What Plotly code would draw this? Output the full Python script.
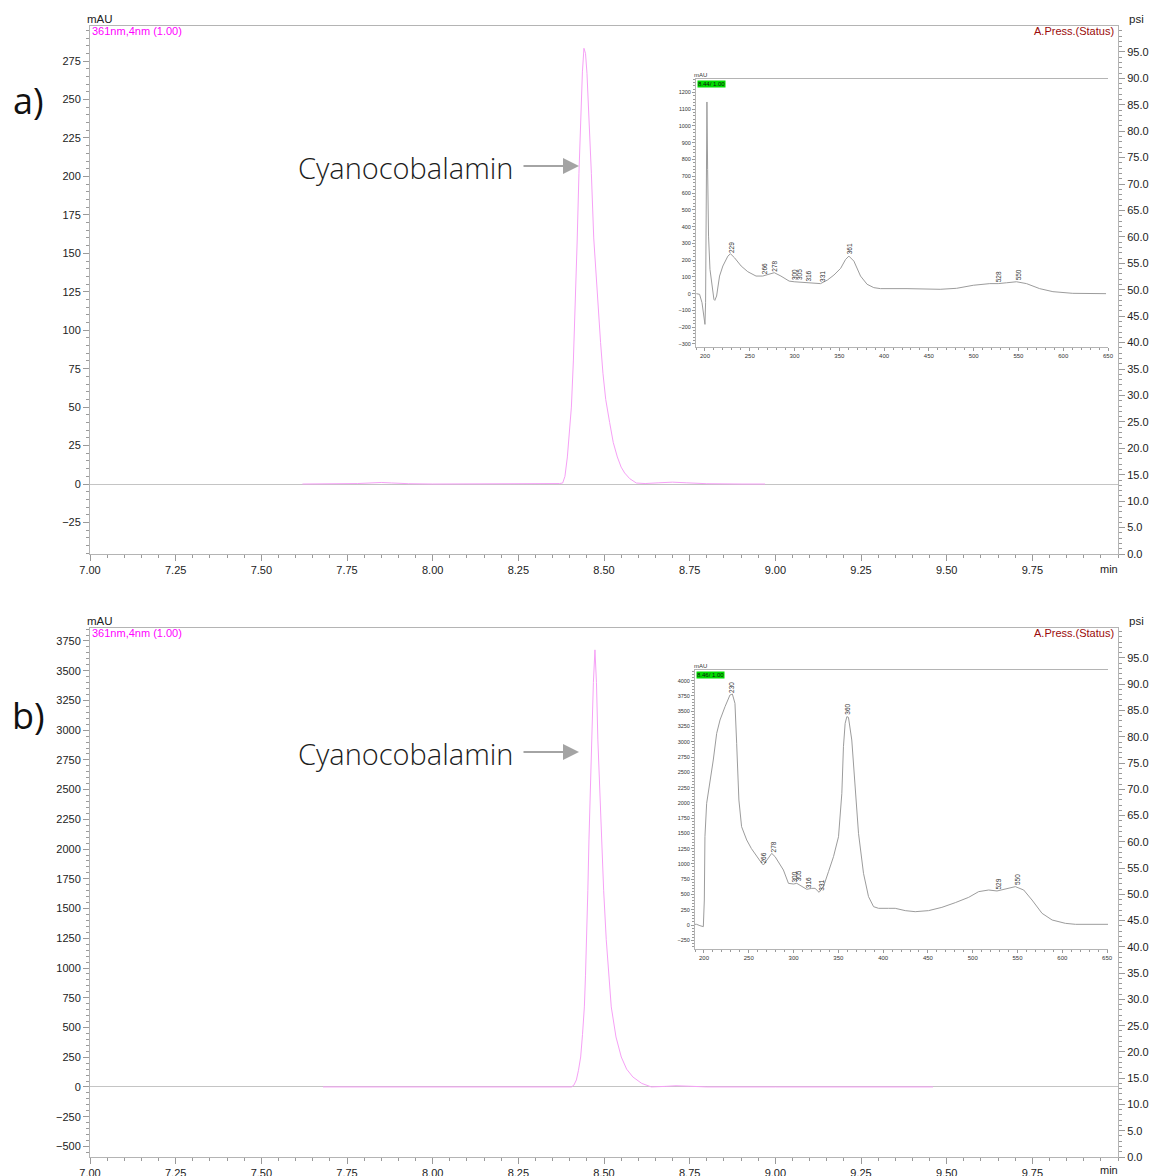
import plotly.graph_objects as go

W, H = 1151, 1176

# ---------------- data ----------------
# chromatogram a (361 nm)
chrom_a_time = [7.62, 7.70, 7.78, 7.82, 7.85, 7.88, 7.93, 8.00, 8.10, 8.20, 8.30, 8.35, 8.370, 8.3794,
                8.386, 8.3931, 8.399, 8.4048, 8.4106, 8.4164, 8.4217, 8.4269, 8.432, 8.437, 8.4415,
                8.446, 8.4503, 8.456, 8.4631, 8.470, 8.476, 8.4824, 8.490, 8.4969, 8.505, 8.5165,
                8.527, 8.5389, 8.550, 8.5602, 8.575, 8.5943, 8.62, 8.66, 8.70, 8.74, 8.80, 8.90, 8.97]
chrom_a_mau = [0, 0, 0.3, 0.7, 1.0, 0.7, 0.2, 0, 0, 0, 0.1, 0.2, 0.3, 0.65,
               5, 17.6, 32, 50, 80, 115, 158, 202, 240, 268, 283.3,
               280, 267, 240, 202, 160, 138, 115, 92, 72, 55, 40,
               27, 17.6, 11, 7.2, 3.5, 0.65, 0.3, 0.8, 1.2, 0.8, 0.2, 0, 0]

# chromatogram b (361 nm)
chrom_b_time = [7.68, 7.80, 7.90, 8.00, 8.10, 8.20, 8.30, 8.38, 8.4048, 8.412, 8.4194, 8.4255, 8.4319,
                8.4373, 8.4427, 8.446, 8.4494, 8.4528, 8.4561, 8.460, 8.4640, 8.4690, 8.4736, 8.4780,
                8.4821, 8.4870, 8.4920, 8.4990, 8.5066, 8.5140, 8.5212, 8.5350, 8.5504, 8.5660,
                8.5842, 8.6100, 8.6381, 8.68, 8.71, 8.75, 8.80, 9.00, 9.20, 9.46]
chrom_b_mau = [0, 0, 0, 0, 0, 0, 0, 0, 0, 15, 59, 140, 252,
               440, 673, 940, 1238, 1650, 2077, 2500, 2918, 3400, 3675, 3400,
               2918, 2500, 2077, 1650, 1238, 930, 673, 420, 252, 150,
               84, 30, 0, 5, 10, 6, 0, 0, 0, 0]

# UV spectrum a (8.44 min)
spec_a_nm = [190.4, 194, 196.7, 198.9, 200, 200.7, 201.5, 202.2, 203, 204, 205.6, 207.8, 210, 211, 213,
             216.3, 220, 225.6, 228.5, 233, 240.4, 247.8, 257, 264.4, 271.9, 277.4, 284.8, 294, 299.6,
             305, 314.4, 321.9, 329, 336.7, 344, 351.5, 357, 360.7, 366.3, 373.7, 381, 388.5, 396,
             425.6, 444, 462.6, 481, 499.6, 518, 527.4, 536.7, 547.8, 559, 573.7, 588.5, 610.7, 647.8]
spec_a_mau = [0, -4, -54, -133, -183, -54, 740, 1143, 740, 343, 145, 46, -34, -40, -14,
              105, 165, 224, 238, 214, 165, 131, 105, 105, 115, 125, 105, 75, 71,
              69, 65, 65, 60, 81, 111, 151, 204, 224, 194, 105, 56, 36, 30,
              30, 26, 26, 32, 50, 60, 60, 65, 71, 60, 30, 12, 2, 0]
peaks_a_nm = [229, 266, 278, 300, 305, 316, 331, 361, 528, 550]
peaks_a_mau = [236, 105, 124, 72, 69, 65, 60, 224, 60, 70]

# UV spectrum b (8.46 min)
spec_b_nm = [190, 191.8, 195.5, 199.3, 200.4, 201.1, 203, 206.7, 210.4, 214.2, 217.9, 223.5, 229, 231.7,
             234.6, 236.5, 239, 242, 247.7, 253, 258.9, 264.5, 266.3, 270, 275.6, 279.4, 285, 288.7,
             294.3, 299.9, 303.6, 309.2, 314.8, 320.3, 324, 328.5, 333.4, 339, 344.6, 350.2, 353.9,
             355.7, 357.6, 359.5, 361.3, 365, 368.8, 372.5, 378.1, 383.7, 389.3, 394.9, 406, 413.5,
             424.7, 435.8, 450.7, 465.6, 480.6, 495.5, 506.6, 517.8, 527.1, 536.4, 547.6, 556.9,
             566.2, 577.4, 588.6, 603.5, 614.7, 651]
spec_b_mau = [11, 11, -11, -27, 409, 1446, 1992, 2319, 2701, 3138, 3356, 3574, 3765, 3782,
              3629, 2974, 2046, 1610, 1392, 1250, 1119, 1010, 982, 1064, 1173, 1119, 982, 900,
              682, 671, 682, 628, 584, 600, 600, 535, 628, 873, 1119, 1446, 2155,
              2919, 3301, 3411, 3400, 3029, 2265, 1501, 846, 464, 300, 273, 273, 273,
              235, 218, 235, 289, 366, 453, 546, 573, 557, 584, 628, 573,
              409, 191, 82, 27, 11, 11]
peaks_b_nm = [230, 266, 278, 300, 305, 316, 331, 360, 529, 550]
peaks_b_mau = [3780, 975, 1170, 671, 682, 584, 535, 3415, 560, 630]

time_ticks = [7.00, 7.25, 7.50, 7.75, 8.00, 8.25, 8.50, 8.75, 9.00, 9.25, 9.50, 9.75]
psi_ticks = [0, 5, 10, 15, 20, 25, 30, 35, 40, 45, 50, 55, 60, 65, 70, 75, 80, 85, 90, 95]
nm_ticks = [200, 250, 300, 350, 400, 450, 500, 550, 600, 650]

# ---------------- helpers ----------------
ML, MR, MT, MB = 90, 33, 26, 19
PW, PH = W - ML - MR, H - MT - MB


def px(x):
    return (x - ML) / PW


def py(y):
    return (H - MB - y) / PH


AX = "#b4b4b4"
TK = "#9a9a9a"
FONT = "Liberation Sans, Arial, sans-serif"
TRACE = "#f6a0f6"
SPEC = "#9c9c9c"

fig = go.Figure()
fig.add_trace(go.Scatter(x=chrom_a_time, y=chrom_a_mau, xaxis="x", yaxis="y", mode="lines",
                         line=dict(color=TRACE, width=1), hoverinfo="skip"))
fig.add_trace(go.Scatter(x=chrom_b_time, y=chrom_b_mau, xaxis="x2", yaxis="y2", mode="lines",
                         line=dict(color=TRACE, width=1), hoverinfo="skip"))
fig.add_trace(go.Scatter(x=spec_a_nm, y=spec_a_mau, xaxis="x3", yaxis="y3", mode="lines",
                         line=dict(color=SPEC, width=1), hoverinfo="skip"))
fig.add_trace(go.Scatter(x=spec_b_nm, y=spec_b_mau, xaxis="x4", yaxis="y4", mode="lines",
                         line=dict(color=SPEC, width=1), hoverinfo="skip"))
# empty traces so that pressure axes exist
fig.add_trace(go.Scatter(x=[], y=[], xaxis="x", yaxis="y5", hoverinfo="skip"))
fig.add_trace(go.Scatter(x=[], y=[], xaxis="x2", yaxis="y6", hoverinfo="skip"))


def main_x(anchor):
    return dict(domain=[0, 1], anchor=anchor, range=[7, 10], tickmode="array",
                tickvals=time_ticks, ticktext=["%.2f" % t for t in time_ticks], automargin=False,
                showline=True, linecolor=AX, linewidth=1, mirror=True, ticks="outside", ticklen=6,
                tickcolor=TK, showgrid=False, zeroline=False,
                tickfont=dict(family=FONT, size=11, color="#222"),
                minor=dict(tickmode="linear", tick0=7, dtick=0.05, ticks="outside", ticklen=3, tickcolor=TK))


def main_y(anchor, dom, rng, dtick, mdt):
    return dict(domain=dom, anchor=anchor, range=rng, tickmode="linear", tick0=0, dtick=dtick,
                automargin=False,
                showline=True, linecolor=AX, linewidth=1, ticks="outside", ticklen=6, tickcolor=TK,
                showgrid=False, zeroline=True, zerolinecolor="#c4c4c4", zerolinewidth=1,
                tickfont=dict(family=FONT, size=11, color="#222"),
                minor=dict(tickmode="linear", tick0=0, dtick=mdt, ticks="outside", ticklen=3, tickcolor=TK))


def psi_y(anchor, over, rng):
    return dict(overlaying=over, anchor=anchor, side="right", range=rng, tickmode="array",
                tickvals=psi_ticks, ticktext=["%.1f" % v for v in psi_ticks], automargin=False,
                showline=True, linecolor=AX, linewidth=1, ticks="outside", ticklen=6, tickcolor=TK,
                showgrid=False, zeroline=False,
                tickfont=dict(family=FONT, size=11, color="#222"),
                minor=dict(tickmode="linear", tick0=0, dtick=1, ticks="outside", ticklen=3, tickcolor=TK))


def inset_x(anchor, dom, rng):
    return dict(domain=dom, anchor=anchor, range=rng, tickmode="array", tickvals=nm_ticks,
                automargin=False,
                showline=True, linecolor=AX, linewidth=1, mirror=True, ticks="outside", ticklen=3,
                tickcolor=TK, showgrid=False, zeroline=False,
                tickfont=dict(family=FONT, size=6, color="#333"),
                minor=dict(tickmode="linear", tick0=200, dtick=10, ticks="outside", ticklen=2, tickcolor=TK))


def inset_y(anchor, dom, rng, dtick, mdt):
    return dict(domain=dom, anchor=anchor, range=rng, tickmode="linear", tick0=0, dtick=dtick,
                automargin=False,
                showline=True, linecolor=AX, linewidth=1, ticks="outside", ticklen=3, tickcolor=TK,
                showgrid=False, zeroline=False,
                tickfont=dict(family=FONT, size=5.5, color="#333"),
                minor=dict(tickmode="linear", tick0=0, dtick=mdt, ticks="outside", ticklen=2, tickcolor=TK))


fig.update_layout(
    width=W, height=H, autosize=False, margin=dict(l=ML, r=MR, t=MT, b=MB, pad=0),
    paper_bgcolor="white", plot_bgcolor="rgba(0,0,0,0)", showlegend=False,
    font=dict(family=FONT),
    xaxis=main_x("y"),
    yaxis=main_y("x", [py(554), py(26)], [-45.5, 297.8], 25, 5),
    yaxis5=psi_y("x", "y", [0, 99.9]),
    xaxis2=main_x("y2"),
    yaxis2=main_y("x2", [py(1157), py(628)], [-589, 3859], 250, 50),
    yaxis6=psi_y("x2", "y2", [0, 100.7]),
    xaxis3=inset_x("y3", [px(696), px(1108)], [190, 650]),
    yaxis3=inset_y("x3", [py(347), py(79)], [-318, 1280], 100, 20),
    xaxis4=inset_x("y4", [px(695), px(1108)], [190, 651]),
    yaxis4=inset_y("x4", [py(949), py(670)], [-393, 4175], 250, 50),
)

ann = []


def txt(x, y, s, size, color="#222", xa="left", ya="middle", fam=FONT, weight=None):
    f = dict(family=fam, size=size, color=color)
    if weight:
        f["weight"] = weight
    ann.append(dict(x=px(x), y=py(y), xref="paper", yref="paper", text=s, showarrow=False,
                    xanchor=xa, yanchor=ya, font=f))


for off, yarrow in ((0, 166), (602, 752)):
    txt(85, 19 + off, "mAU", 11.5)
    txt(90, 31 + off, "361nm,4nm (1.00)", 11, color="#ff00ff")
    txt(1116, 31 + off, "A.Press.(Status)", 11, color="#9b0a0a", xa="right")
    txt(1127, 19 + off, "psi", 11.5)
    txt(1120, 569 + off if off == 0 else 1170, "min", 11, xa="right")
    txt(405, yarrow + 1, "Cyanocobalamin", 29, color="#1c1c1c", xa="center",
        fam="Open Sans, Lato, sans-serif", weight=300)
    ann.append(dict(x=px(579), y=py(yarrow), xref="paper", yref="paper", text="", showarrow=True,
                    ax=-57, ay=0, arrowhead=2, arrowsize=1.6, arrowwidth=2, arrowcolor="#a4a4a4"))

txt(28, 101, "a)", 36, color="#111", xa="center", fam="Open Sans, sans-serif")
txt(28, 716, "b)", 36, color="#111", xa="center", fam="Open Sans, sans-serif")

# inset headers
txt(692, 75, "mAU", 6, color="#333")
txt(692, 666, "mAU", 6, color="#333")
ann.append(dict(x=px(697), y=py(79.5), xref="paper", yref="paper", text="8.44/ 1.00", showarrow=False,
                xanchor="left", yanchor="top", bgcolor="#00dd00", borderpad=0,
                font=dict(family=FONT, size=6, color="#111")))
ann.append(dict(x=px(696), y=py(670.5), xref="paper", yref="paper", text="8.46/ 1.00", showarrow=False,
                xanchor="left", yanchor="top", bgcolor="#00dd00", borderpad=0,
                font=dict(family=FONT, size=6, color="#111")))

# peak wavelength labels
for nm, v in zip(peaks_a_nm, peaks_a_mau):
    ann.append(dict(x=nm, y=v, xref="x3", yref="y3", text=str(nm), showarrow=False, textangle=-90,
                    xanchor="center", yanchor="middle", yshift=7,
                    font=dict(family=FONT, size=6.5, color="#333")))
for nm, v in zip(peaks_b_nm, peaks_b_mau):
    ann.append(dict(x=nm, y=v, xref="x4", yref="y4", text=str(nm), showarrow=False, textangle=-90,
                    xanchor="center", yanchor="middle", yshift=7,
                    font=dict(family=FONT, size=6.5, color="#333")))

fig.update_layout(annotations=ann)
fig.write_html("out.html", config={"displayModeBar": False},
               post_script="document.body.style.margin='0px';document.body.style.overflow='hidden';")
